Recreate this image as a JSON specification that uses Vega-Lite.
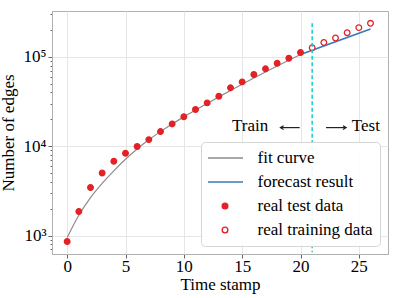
{
  "$schema": "https://vega.github.io/schema/vega-lite/v6.json",
  "width": 336,
  "height": 243,
  "autosize": {"type": "none"},
  "padding": {"left": 52, "top": 11, "right": 11, "bottom": 44},
  "background": "white",
  "config": {
    "font": "Liberation Serif",
    "view": {"stroke": "#b0b0b0", "strokeWidth": 1},
    "axis": {
      "labelFont": "Liberation Serif", "labelFontSize": 17, "labelColor": "black",
      "titleFont": "Liberation Serif", "titleFontSize": 17, "titleFontWeight": "normal", "titleColor": "black",
      "domainColor": "#b0b0b0", "tickColor": "#666666", "gridColor": "#e6e6e6", "gridWidth": 1
    },
    "legend": {
      "labelFont": "Liberation Serif", "labelFontSize": 17, "labelColor": "black",
      "fillColor": "rgba(255,255,255,0.9)", "strokeColor": "#d6d6d6", "cornerRadius": 4,
      "padding": 7, "rowPadding": 6, "symbolOffset": 8.5, "labelOffset": 24, "clipHeight": 18,
      "symbolStrokeWidth": 1.4, "orient": "bottom-right", "offset": 8
    }
  },
  "datasets": {
    "main": [
      {"t": 0, "v": 951, "series": "fit curve"},
      {"t": 1, "v": 1687, "series": "fit curve"},
      {"t": 2, "v": 2661, "series": "fit curve"},
      {"t": 3, "v": 3846, "series": "fit curve"},
      {"t": 4, "v": 5309, "series": "fit curve"},
      {"t": 5, "v": 7161, "series": "fit curve"},
      {"t": 6, "v": 9333, "series": "fit curve"},
      {"t": 7, "v": 11803, "series": "fit curve"},
      {"t": 8, "v": 14588, "series": "fit curve"},
      {"t": 9, "v": 17742, "series": "fit curve"},
      {"t": 10, "v": 21330, "series": "fit curve"},
      {"t": 11, "v": 25410, "series": "fit curve"},
      {"t": 12, "v": 30200, "series": "fit curve"},
      {"t": 13, "v": 35730, "series": "fit curve"},
      {"t": 14, "v": 42170, "series": "fit curve"},
      {"t": 15, "v": 49550, "series": "fit curve"},
      {"t": 16, "v": 58080, "series": "fit curve"},
      {"t": 17, "v": 67920, "series": "fit curve"},
      {"t": 18, "v": 79070, "series": "fit curve"},
      {"t": 19, "v": 91830, "series": "fit curve"},
      {"t": 20, "v": 106400, "series": "fit curve"},
      {"t": 20, "v": 106400, "series": "forecast result"},
      {"t": 21, "v": 118900, "series": "forecast result"},
      {"t": 22, "v": 132400, "series": "forecast result"},
      {"t": 23, "v": 147900, "series": "forecast result"},
      {"t": 24, "v": 165200, "series": "forecast result"},
      {"t": 25, "v": 184500, "series": "forecast result"},
      {"t": 26, "v": 206100, "series": "forecast result"},
      {"t": 0, "v": 857, "series": "real test data"},
      {"t": 1, "v": 1857, "series": "real test data"},
      {"t": 2, "v": 3447, "series": "real test data"},
      {"t": 3, "v": 5020, "series": "real test data"},
      {"t": 4, "v": 6790, "series": "real test data"},
      {"t": 5, "v": 8350, "series": "real test data"},
      {"t": 6, "v": 9930, "series": "real test data"},
      {"t": 7, "v": 11870, "series": "real test data"},
      {"t": 8, "v": 14600, "series": "real test data"},
      {"t": 9, "v": 17800, "series": "real test data"},
      {"t": 10, "v": 21400, "series": "real test data"},
      {"t": 11, "v": 25800, "series": "real test data"},
      {"t": 12, "v": 30600, "series": "real test data"},
      {"t": 13, "v": 36300, "series": "real test data"},
      {"t": 14, "v": 45100, "series": "real test data"},
      {"t": 15, "v": 52600, "series": "real test data"},
      {"t": 16, "v": 63500, "series": "real test data"},
      {"t": 17, "v": 73600, "series": "real test data"},
      {"t": 18, "v": 85000, "series": "real test data"},
      {"t": 19, "v": 96600, "series": "real test data"},
      {"t": 20, "v": 112000, "series": "real test data"},
      {"t": 21, "v": 127000, "series": "real training data"},
      {"t": 22, "v": 145000, "series": "real training data"},
      {"t": 23, "v": 163000, "series": "real training data"},
      {"t": 24, "v": 187000, "series": "real training data"},
      {"t": 25, "v": 213000, "series": "real training data"},
      {"t": 26, "v": 238000, "series": "real training data"}
    ],
    "labels": [
      {"t": 15.68, "v": 17060, "txt": "Train"},
      {"t": 25.6, "v": 17060, "txt": "Test"}
    ],
    "arrows": [
      {"x1": 18.28, "x2": 19.93, "v": 16180},
      {"x1": 22.19, "x2": 23.91, "v": 16180}
    ],
    "heads": [
      {"t": 18.28, "v": 16180, "dir": "left"},
      {"t": 23.91, "v": 16180, "dir": "right"}
    ],
    "split": [
      {"t": 21, "top": 238000, "bottom": 650}
    ]
  },
  "layer": [
    {
      "data": {"name": "main"},
      "transform": [{"filter": "datum.series == 'fit curve'"}],
      "mark": {"type": "line", "strokeWidth": 1.2, "interpolate": "monotone"},
      "encoding": {
        "x": {
          "field": "t", "type": "quantitative", "title": "Time stamp",
          "scale": {"domain": [-1.3, 27.5], "nice": false, "zero": false},
          "axis": {"values": [0, 5, 10, 15, 20, 25], "labelFont": "Liberation Serif", "tickSize": 4, "labelPadding": 0, "titlePadding": 2, "grid": true}
        },
        "y": {
          "field": "v", "type": "quantitative", "title": "Number of edges",
          "scale": {"type": "log", "domain": [622, 327000], "nice": false},
          "axis": {
            "values": [700, 800, 900, 1000, 2000, 3000, 4000, 5000, 6000, 7000, 8000, 9000, 10000, 20000, 30000, 40000, 50000, 60000, 70000, 80000, 90000, 100000, 200000, 300000],
            "labelExpr": "datum.value == 1000 ? '10³' : datum.value == 10000 ? '10⁴' : datum.value == 100000 ? '10⁵' : ''",
            "labelFont": "Liberation Serif",
            "tickSize": {"condition": {"test": "datum.value == 1000 || datum.value == 10000 || datum.value == 100000", "value": 4}, "value": 2},
            "gridOpacity": {"condition": {"test": "datum.value == 1000 || datum.value == 10000 || datum.value == 100000", "value": 1}, "value": 0},
            "labelPadding": 2, "titlePadding": 6, "grid": true
          }
        },
        "stroke": {
          "field": "series", "type": "nominal",
          "scale": {"domain": ["fit curve", "forecast result", "real test data", "real training data"], "range": ["#8c8c8c", "#3579bd", "#e32227", "#e32227"]},
          "legend": {"title": null}
        }
      }
    },
    {
      "data": {"name": "main"},
      "transform": [{"filter": "datum.series == 'forecast result'"}],
      "mark": {"type": "line", "strokeWidth": 1.6},
      "encoding": {
        "x": {"field": "t", "type": "quantitative"},
        "y": {"field": "v", "type": "quantitative"},
        "stroke": {"field": "series", "type": "nominal"}
      }
    },
    {
      "data": {"name": "main"},
      "transform": [{"filter": "indexof(datum.series, 'real') == 0"}],
      "mark": {"type": "point", "strokeWidth": 1.3, "opacity": 1},
      "encoding": {
        "x": {"field": "t", "type": "quantitative"},
        "y": {"field": "v", "type": "quantitative"},
        "stroke": {"field": "series", "type": "nominal"},
        "fill": {
          "field": "series", "type": "nominal",
          "scale": {"domain": ["fit curve", "forecast result", "real test data", "real training data"], "range": ["transparent", "transparent", "#e32227", "#ffffff"]}
        },
        "shape": {
          "field": "series", "type": "nominal",
          "scale": {"domain": ["fit curve", "forecast result", "real test data", "real training data"], "range": ["M -3 0 L 3 0", "M -3 0 L 3 0", "circle", "circle"]}
        },
        "size": {
          "field": "series", "type": "nominal",
          "scale": {"type": "ordinal", "domain": ["fit curve", "forecast result", "real test data", "real training data"], "range": [144, 144, 32, 32]}
        }
      }
    },
    {
      "data": {"name": "split"},
      "mark": {"type": "rule", "color": "#12cdd4", "strokeWidth": 1.5, "strokeDash": [4, 2.5]},
      "encoding": {
        "x": {"field": "t", "type": "quantitative"},
        "y": {"field": "top", "type": "quantitative"},
        "y2": {"field": "bottom"}
      }
    },
    {
      "data": {"name": "labels"},
      "mark": {"type": "text", "font": "Liberation Serif", "fontSize": 17, "color": "black", "baseline": "middle", "align": "center"},
      "encoding": {
        "x": {"field": "t", "type": "quantitative"},
        "y": {"field": "v", "type": "quantitative"},
        "text": {"field": "txt"}
      }
    },
    {
      "data": {"name": "arrows"},
      "mark": {"type": "rule", "color": "#222222", "strokeWidth": 1.2},
      "encoding": {
        "x": {"field": "x1", "type": "quantitative"},
        "x2": {"field": "x2"},
        "y": {"field": "v", "type": "quantitative"}
      }
    },
    {
      "data": {"name": "heads"},
      "transform": [{"filter": "datum.dir == 'left'"}],
      "mark": {"type": "point", "shape": "M 1 -0.6 L 0 0 L 1 0.6", "filled": false, "color": "#222222", "strokeWidth": 1.2, "size": 40, "opacity": 1},
      "encoding": {
        "x": {"field": "t", "type": "quantitative"},
        "y": {"field": "v", "type": "quantitative"}
      }
    },
    {
      "data": {"name": "heads"},
      "transform": [{"filter": "datum.dir == 'right'"}],
      "mark": {"type": "point", "shape": "M -1 -0.6 L 0 0 L -1 0.6", "filled": false, "color": "#222222", "strokeWidth": 1.2, "size": 40, "opacity": 1},
      "encoding": {
        "x": {"field": "t", "type": "quantitative"},
        "y": {"field": "v", "type": "quantitative"}
      }
    }
  ]
}
